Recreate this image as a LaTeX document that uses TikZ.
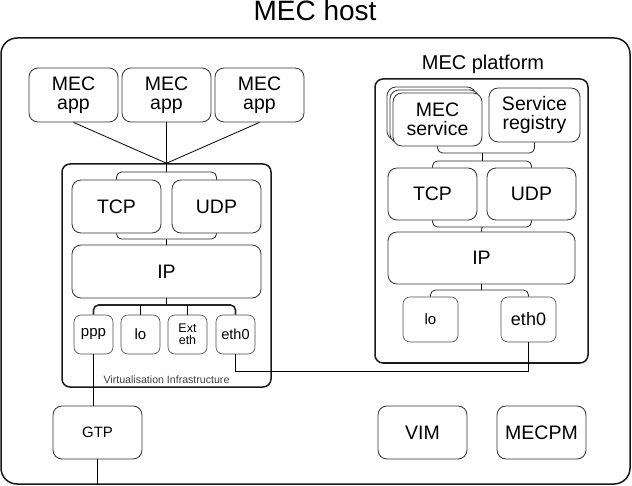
\documentclass[tikz,border=0pt]{standalone}
\usepackage{fontspec}
\setmainfont{Liberation Sans}
\usepackage{tikz}

\newcommand{\fsz}[1]{\fontsize{#1}{#1}\selectfont}

\begin{document}
\begin{tikzpicture}[x=1pt,y=-1pt,line width=0.8pt,
  box/.style={draw=black!80,fill=white,rounded corners=9pt,inner sep=0pt,align=center,
    minimum width=89pt,minimum height=53pt,font=\fsz{19.5}},
  port/.style={draw=black!70,fill=white,rounded corners=7pt,inner sep=0pt,align=center,
    minimum width=39pt,minimum height=39pt,line width=0.6pt,font=\fsz{15}},
  frame/.style={draw=black!90,line width=1.5pt,rounded corners=8pt,inner sep=0pt},
  bracket/.style={draw=black!85,rounded corners=5pt}]

\useasboundingbox (0,0) rectangle (632,486);

\node [anchor=base] (title) at (315,21) {\fsz{28}MEC host};
\node [frame,rounded corners=16pt,minimum width=629pt,minimum height=446pt] (host) at (315.5,261) {};

\node [box,minimum height=54pt] (app1) at (73.5,95) {MEC\\app};
\node [box,minimum height=54pt] (app2) at (166.5,95) {MEC\\app};
\node [box,minimum height=54pt] (app3) at (259.5,95) {MEC\\app};

\node [frame,minimum width=209pt,minimum height=223pt] (vi) at (166.5,275.5) {};
\node [anchor=base,text=black!75,font=\fsz{10.6}] (vilabel) at (166.5,383.5) {Virtualisation Infrastructure};

\draw (app1.south) -- (vi.north);
\draw (app2.south) -- (vi.north);
\draw (app3.south) -- (vi.north);

\node [box] (tcp1) at (116.5,206.5) {TCP};
\node [box] (udp1) at (216.5,206.5) {UDP};
\node [box,minimum width=189pt] (ip1) at (166.5,271.5) {IP};

\coordinate (h1) at (166.5,172);
\coordinate (h2) at (166.5,239);
\coordinate (h3) at (166.5,305);
\draw (vi.north) -- (h1);
\draw [bracket] (tcp1.north) |- (h1) -| (udp1.north);
\draw [bracket] (tcp1.south) |- (h2) -| (udp1.south);
\draw (h2) -- (ip1.north);
\draw (ip1.south) -- (h3);

\node [port] (ppp) at (93.5,334.5) {ppp};
\node [port] (lo) at (140.5,334.5) {lo};
\node [port,font=\fsz{12.5}] (ext) at (187.5,334.5) {Ext\\eth};
\node [port,font=\fsz{14.5}] (eth0) at (235.5,334.5) {eth0};

\draw [bracket,line width=1.6pt] (ppp.north) |- (h3) -| (eth0.north);
\draw (lo.north) -- (lo.north |- h3);
\draw (ext.north) -- (ext.north |- h3);

\node [box,font=\fsz{15}] (gtp) at (97.5,432.5) {GTP};
\draw (ppp.south) -- (ppp.south |- gtp.north);
\draw (gtp.south) -- (gtp.south |- host.south);

\node [anchor=base,font=\fsz{20}] (platlabel) at (483,70) {MEC platform};
\node [frame,minimum width=213pt,minimum height=284pt] (plat) at (481.5,221) {};

\node [box] (svc3) at (431.5,113.5) {};
\node [box] (svc2) at (434.5,116.5) {};
\node [box] (svc) at (437.5,119.5) {MEC\\service};
\node [box,minimum width=91pt,minimum height=54pt] (reg) at (534.5,115) {Service\\registry};

\node [box,minimum height=52pt] (tcp2) at (432.5,194) {TCP};
\node [box,minimum height=52pt] (udp2) at (531.5,194) {UDP};
\node [box,minimum width=187pt,minimum height=52pt] (ip2) at (481.5,258) {IP};

\coordinate (h4) at (482,153);
\coordinate (h5) at (482,161);
\coordinate (h6) at (482,227);
\coordinate (h7) at (481.5,290);
\draw [bracket] (svc.south) |- (h4) -| (reg.south);
\draw (h4) -- (h5);
\draw [bracket] (tcp2.north) |- (h5) -| (udp2.north);
\draw [bracket] (tcp2.south) |- (h6) -| (udp2.south);
\draw (h6) -- (ip2.north);
\draw (ip2.south) -- (h7);

\node [port,minimum width=55pt,minimum height=45pt,font=\fsz{15}] (lo2) at (430.5,319.5) {lo};
\node [port,minimum width=55pt,minimum height=45pt,font=\fsz{18}] (peth) at (528.5,319.5) {eth0};
\draw [bracket] (lo2.north) |- (h7) -| (peth.north);

\draw (eth0.south) -- ++(0,17) -| (peth.south);

\node [box] (vim) at (422.5,432.5) {VIM};
\node [box] (mecpm) at (541.5,432.5) {MECPM};

\end{tikzpicture}
\end{document}
